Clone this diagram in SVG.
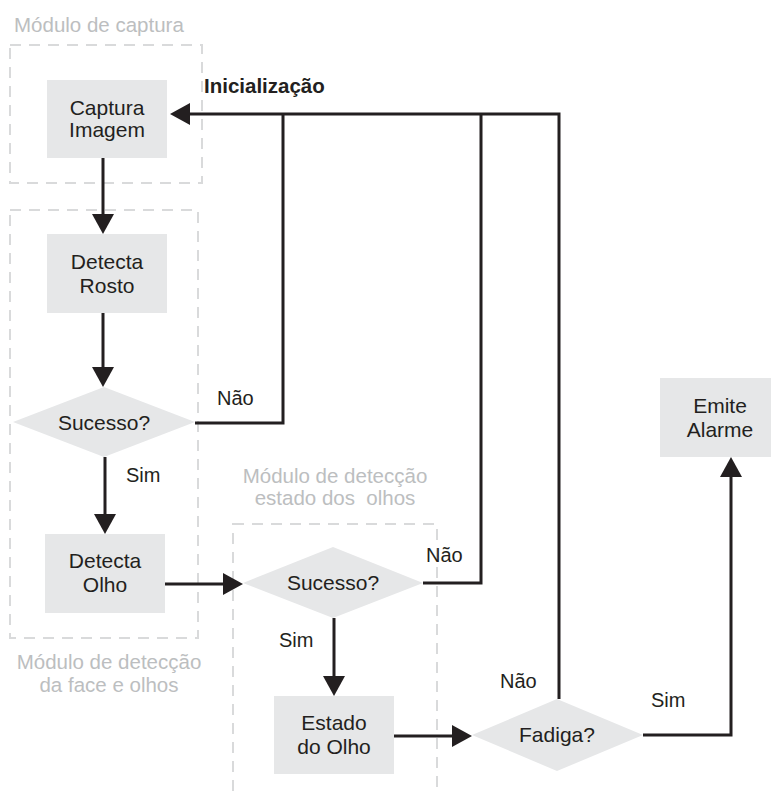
<svg xmlns="http://www.w3.org/2000/svg" width="771" height="792" viewBox="0 0 771 792">
<style>
text{font-family:"Liberation Sans",Arial,sans-serif;font-size:21px;fill:#231f20}
.t{text-anchor:middle}
.lbl{font-size:20px}
.mod{fill:#bcbec0;font-size:20.5px}
.b{font-weight:bold;font-size:20.5px}
.box{fill:#e6e7e8}
.frame{fill:none;stroke:#d9dadb;stroke-width:2;stroke-dasharray:11 8}
.c{fill:none;stroke:#231f20;stroke-width:3}
.a{marker-end:url(#ah)}
</style>
<defs>
<marker id="ah" markerUnits="userSpaceOnUse" markerWidth="20" markerHeight="22" refX="10" refY="11" orient="auto">
<path d="M0,0 L20,11 L0,22 z" fill="#231f20"/>
</marker>
</defs>
<rect width="771" height="792" fill="#ffffff"/>

<g id="modulos">
<rect class="frame" x="10" y="45" width="192" height="138"/>
<text class="mod" x="14" y="32">Módulo de captura</text>
<rect class="frame" x="10" y="210" width="188" height="428"/>
<text class="mod t" x="109" y="669">Módulo de detecção</text>
<text class="mod t" x="109" y="692">da face e olhos</text>
<rect class="frame" x="233" y="524" width="204" height="300"/>
<text class="mod t" x="335" y="483">Módulo de detecção</text>
<text class="mod t" x="335" y="505" xml:space="preserve">estado dos  olhos</text>
</g>

<g id="connectors">
<path class="c a" d="M103,158 V224"/>
<path class="c a" d="M103,313 V377"/>
<path class="c a" d="M105,457 V524"/>
<path class="c a" d="M165,584 H233"/>
<path class="c a" d="M334,618 V686"/>
<path class="c a" d="M394,736 H462"/>
<path class="c a" d="M643,735 H731 V467"/>
<path class="c" d="M195,423 H283 V114"/>
<path class="c" d="M423,583 H481 V114"/>
<path class="c a" d="M559,699 V114 H180"/>
<text class="b" x="204" y="93">Inicialização</text>
<text class="lbl" x="217" y="405">Não</text>
<text class="lbl" x="126" y="482">Sim</text>
<text class="lbl" x="426" y="562">Não</text>
<text class="lbl" x="279" y="647">Sim</text>
<text class="lbl" x="500" y="688">Não</text>
<text class="lbl" x="651" y="707">Sim</text>
</g>

<g id="captura-imagem">
<rect class="box" x="47" y="80" width="120" height="78"/>
<text class="t" x="107" y="115">Captura</text>
<text class="t" x="107" y="137">Imagem</text>
</g>
<g id="detecta-rosto">
<rect class="box" x="47" y="234" width="120" height="79"/>
<text class="t" x="107" y="269">Detecta</text>
<text class="t" x="107" y="293">Rosto</text>
</g>
<g id="sucesso-1">
<polygon class="box" points="13,422 104,387 195,422 104,457"/>
<text class="t" x="104" y="430">Sucesso?</text>
</g>
<g id="detecta-olho">
<rect class="box" x="45" y="534" width="120" height="79"/>
<text class="t" x="105" y="568">Detecta</text>
<text class="t" x="105" y="592">Olho</text>
</g>
<g id="sucesso-2">
<polygon class="box" points="243,583 333,547 423,583 333,618"/>
<text class="t" x="333" y="590">Sucesso?</text>
</g>
<g id="estado-olho">
<rect class="box" x="274" y="696" width="120" height="78"/>
<text class="t" x="334" y="730">Estado</text>
<text class="t" x="334" y="754">do Olho</text>
</g>
<g id="fadiga">
<polygon class="box" points="472,735 557,699 643,735 557,771"/>
<text class="t" x="557" y="742">Fadiga?</text>
</g>
<g id="emite-alarme">
<rect class="box" x="660" y="378" width="120" height="79"/>
<text class="t" x="720" y="413">Emite</text>
<text class="t" x="720" y="437">Alarme</text>
</g>
</svg>
